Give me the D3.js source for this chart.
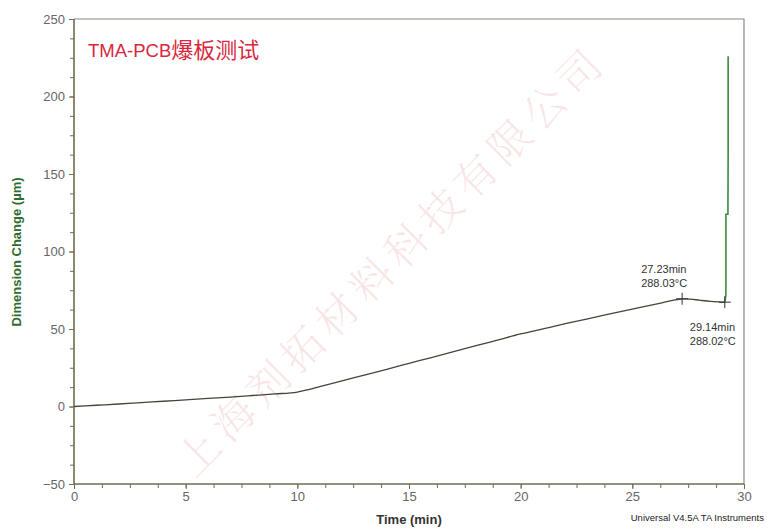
<!DOCTYPE html>
<html>
<head>
<meta charset="utf-8">
<script src="https://cdn.jsdelivr.net/npm/d3@7"></script>
<style>
  html, body { margin: 0; padding: 0; background: #fff; }
  svg { display: block; }
</style>
</head>
<body>
<svg id="chart" width="767" height="530"></svg>
<script>
// ---- data ----
const timeMin = [0, 1, 2, 3, 4, 5, 6, 7, 8, 9, 10, 10.5, 11, 12, 13, 14, 15, 16, 17, 18, 19, 20,
                 21, 22, 23, 24, 25, 26, 27, 27.23, 27.6, 28, 28.5, 29, 29.14];
const dimChange = [0, 0.8, 1.6, 2.5, 3.4, 4.3, 5.2, 6.1, 7.1, 8.1, 9.3, 10.9, 12.8, 16.6, 20.3, 24.0, 27.8,
                   31.6, 35.4, 39.2, 43.0, 46.8, 50.1, 53.4, 56.6, 59.7, 62.8, 65.9, 68.9, 69.5, 69.3,
                   68.6, 67.8, 67.4, 67.3];
// delamination spike at the end of the run
const spikeTime = [29.14, 29.19, 29.19, 29.19, 29.28, 29.29, 29.29];
const spikeValue = [67.3, 72.0, 79.0, 124.0, 124.0, 163.0, 226.0];
const markerTime = [27.23, 29.14];
const markerValue = [69.5, 67.3];
const markerLabel = [["27.23min", "288.03°C"], ["29.14min", "288.02°C"]];
const xMajorTicks = [0, 5, 10, 15, 20, 25, 30];
const yMajorTicks = [-50, 0, 50, 100, 150, 200, 250];

const svg = d3.select("#chart");
const m = { left: 74, right: 744, top: 19, bottom: 484 };
const x = d3.scaleLinear().domain([0, 30]).range([m.left, m.right]);
const y = d3.scaleLinear().domain([-50, 250]).range([m.bottom, m.top]);

// watermark
svg.append("text")
  .attr("transform", "translate(392,266) rotate(-45)")
  .attr("text-anchor", "middle")
  .attr("dominant-baseline", "middle")
  .attr("font-family", "'Noto Serif CJK SC','Noto Sans CJK SC',sans-serif")
  .attr("font-size", 42)
  .attr("font-weight", 300)
  .attr("fill", "rgba(225,140,140,0.22)")
  .attr("textLength", 580)
  .attr("lengthAdjust", "spacing")
  .text("上海剂拓材料科技有限公司");

// frame (top and right)
svg.append("path")
  .attr("d", `M${m.left},${m.top}H${m.right}V${m.bottom}`)
  .attr("fill", "none").attr("stroke", "#8a8a80").attr("stroke-width", 1.2);

const axisColor = "#6e6e52";
const labelFont = "'Liberation Sans', Arial, sans-serif";

// y axis
const yMinor = d3.range(-50, 250.01, 12.5);
const yAxisG = svg.append("g").attr("transform", `translate(${m.left},0)`);
yAxisG.call(d3.axisLeft(y).tickValues(yMinor).tickSize(4).tickFormat(""));
yAxisG.select(".domain").remove();
yAxisG.selectAll(".tick line").attr("stroke", axisColor);
const yLab = svg.append("g").attr("transform", `translate(${m.left},0)`)
  .call(d3.axisLeft(y).tickValues(yMajorTicks).tickSize(5).tickPadding(4).tickFormat(d3.format("d")));
yLab.select(".domain").remove();
yLab.selectAll(".tick line").attr("stroke", axisColor);
yLab.selectAll(".tick text").attr("fill", "#666").attr("font-size", 13).attr("font-family", labelFont);

// x axis
const xMinor = d3.range(0, 30.01, 1.25);
const xAxisG = svg.append("g").attr("transform", `translate(0,${m.bottom})`);
xAxisG.call(d3.axisBottom(x).tickValues(xMinor).tickSize(4).tickFormat(""));
xAxisG.select(".domain").remove();
xAxisG.selectAll(".tick line").attr("stroke", axisColor);
const xLab = svg.append("g").attr("transform", `translate(0,${m.bottom})`)
  .call(d3.axisBottom(x).tickValues(xMajorTicks).tickSize(5).tickPadding(3).tickFormat(d3.format("d")));
xLab.select(".domain").remove();
xLab.selectAll(".tick line").attr("stroke", axisColor);
xLab.selectAll(".tick text").attr("fill", "#666").attr("font-size", 13).attr("font-family", labelFont);

// axis lines
svg.append("path")
  .attr("d", `M${m.left},${m.top}V${m.bottom}H${m.right}`)
  .attr("fill", "none").attr("stroke", axisColor).attr("stroke-width", 1.6);

// main curve
const line = d3.line().x(d => x(d[0])).y(d => y(d[1])).curve(d3.curveMonotoneX);
svg.append("path")
  .datum(timeMin.map((t, i) => [t, dimChange[i]]))
  .attr("d", line)
  .attr("fill", "none").attr("stroke", "#45453a").attr("stroke-width", 1.3);

// spike
const spikeLine = d3.line().x(d => x(d[0])).y(d => y(d[1]));
svg.append("path")
  .datum(spikeTime.map((t, i) => [t, spikeValue[i]]))
  .attr("d", spikeLine)
  .attr("fill", "none").attr("stroke", "#3d8a3d").attr("stroke-width", 1.6);

// markers
const mk = svg.append("g");
markerTime.forEach((t, i) => {
  const cx = x(t), cy = y(markerValue[i]);
  mk.append("path")
    .attr("d", `M${cx - 6},${cy}H${cx + 6}M${cx},${cy - 6}V${cy + 6}`)
    .attr("stroke", "#333").attr("stroke-width", 1);
  const dx = i === 0 ? -41 : -35;
  const dy = i === 0 ? -26 : 29;
  mk.append("text")
    .attr("x", cx + dx).attr("y", cy + dy)
    .attr("font-family", labelFont).attr("font-size", 11).attr("fill", "#333")
    .text(markerLabel[i][0]);
  mk.append("text")
    .attr("x", cx + dx).attr("y", cy + dy + 14)
    .attr("font-family", labelFont).attr("font-size", 11).attr("fill", "#333")
    .text(markerLabel[i][1]);
});

// title
const title = svg.append("text")
  .attr("x", 88).attr("y", 57)
  .attr("font-family", "'Liberation Sans','Noto Sans CJK SC',sans-serif")
  .attr("font-size", 18.5)
  .attr("fill", "#d8283e");
title.append("tspan").text("TMA-PCB");
title.append("tspan")
  .attr("font-family", "'Noto Sans CJK SC',sans-serif")
  .attr("font-size", 22)
  .attr("dy", 1)
  .text("爆板测试");

// axis titles
svg.append("text")
  .attr("x", 409).attr("y", 524)
  .attr("text-anchor", "middle")
  .attr("font-family", labelFont).attr("font-size", 13).attr("font-weight", "bold")
  .attr("fill", "#333")
  .text("Time (min)");
svg.append("text")
  .attr("transform", "translate(21,252) rotate(-90)")
  .attr("text-anchor", "middle")
  .attr("font-family", labelFont).attr("font-size", 13).attr("font-weight", "bold")
  .attr("fill", "#2f6b2f")
  .text("Dimension Change (µm)");

svg.append("text")
  .attr("x", 764).attr("y", 521)
  .attr("text-anchor", "end")
  .attr("font-family", labelFont).attr("font-size", 9.5)
  .attr("fill", "#222")
  .text("Universal V4.5A TA Instruments");
</script>
</body>
</html>
